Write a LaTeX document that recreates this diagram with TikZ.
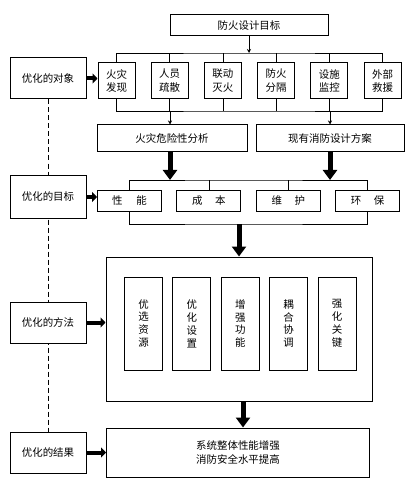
\documentclass[tikz,border=0pt]{standalone}
\usepackage{fontspec}
\newfontfamily\cjk{Noto Sans CJK SC}
\usetikzlibrary{arrows.meta,backgrounds}

\newlength{\du}
\setlength{\du}{1bp}

\tikzset{
  kuang/.style={draw, line width=1bp, fill=white, inner sep=0pt, align=center,
    font=\cjk\fontsize{10.5}{14}\selectfont},
  zuokuang/.style={kuang, minimum width=76\du, minimum height=41\du},
  xian/.style={line width=0.8bp},
  xijian/.style={line width=0.8bp, -{Stealth[length=4bp,width=4bp]}},
  cujian/.style={line width=5bp, -{Triangle[length=10bp,width=14bp]}},
  duanjian/.style={line width=4bp, -{Triangle[length=5bp,width=10bp]}},
}

\begin{document}
\begin{tikzpicture}
\pgftransformyscale{-1.000000}
\useasboundingbox (0\du,0\du) rectangle (412\du,492\du);
% left column
\node[zuokuang] (dx) at (48\du,78.5\du){优化的对象};
\node[zuokuang, minimum height=42\du] (mb) at (48\du,197\du){优化的目标};
\node[zuokuang] (ff) at (48\du,322.5\du){优化的方法};
\node[zuokuang] (jg) at (48\du,452.5\du){优化的结果};
% top
\node[kuang, minimum width=158\du, minimum height=21\du] (sj) at (249\du,25.5\du){防火设计目标};
\foreach \t [count=\i] in {{火灾\\发现},{人员\\疏散},{联动\\灭火},{防火\\分隔},{设施\\监控},{外部\\救援}}
  \node[kuang, minimum width=37\du, minimum height=36\du] (b\i) at ({116.5\du+(\i-1)*53.2\du},81\du){\t};
\coordinate (s1) at (249\du,53\du);
\coordinate (x1) at (249\du,111\du);
\draw[xian] (b1.north) |- (s1) -| (b6.north);
\draw[xian] (b1.south) |- (x1) -| (b6.south);
\foreach \i in {2,...,5}{
  \draw[xian] (b\i.north) -- (b\i.north |- s1);
  \draw[xian] (b\i.south) -- (b\i.south |- x1);
}
\draw[xijian] (sj.south) -- (sj.south |- s1);
\node[kuang, minimum width=150\du, minimum height=27\du] (wx) at (172\du,138.5\du){火灾危险性分析};
\node[kuang, minimum width=148\du, minimum height=27\du] (fa) at (330\du,138.5\du){现有消防设计方案};
\draw[xijian] ([xshift=-2\du]wx.north |- x1) -- ([xshift=-2\du]wx.north);
\draw[xijian] (fa.north |- x1) -- (fa.north);
\draw[duanjian] (dx.east) -- (dx.east -| b1.west);
% second level
\foreach \t [count=\i] in {{性\hspace{1.3em}能},{成\hspace{1.2em}本},{维\hspace{1.2em}护},{环\hspace{1.2em}保}}
  \node[kuang, minimum width=64\du, minimum height=21\du] (p\i) at ({129.5\du+(\i-1)*79.4\du},200.5\du){\t};
\coordinate (s2) at (239\du,180\du);
\coordinate (x2) at (239\du,224\du);
\begin{scope}[on background layer]
\draw[xian] (p1.north) |- (s2) -| (p4.north);
\draw[xian] (p1.south) |- (x2) -| (p4.south);
\draw[xian] (p1.north) -- (p1.south);
\draw[xian] (p4.north) -- (p4.south);
\draw[line width=0.8bp, dash pattern=on 5bp off 3bp] (dx.south) -- (jg.north);
\end{scope}
\draw[xian] (p2.north) -- (p2.north |- s2);
\draw[xian] (p3.north) -- (p3.north |- s2);
\draw[cujian] ([xshift=-2\du]wx.south) -- ([xshift=-2\du]wx.south |- s2);
\draw[cujian] (fa.south) -- (fa.south |- s2);
\draw[duanjian] (mb.east) -- (mb.east -| p1.west);
% methods
\node[kuang, minimum width=266\du, minimum height=144\du] (fk) at (239\du,329\du){};
\foreach \t [count=\i] in {{优\\选\\资\\源},{优\\化\\设\\置},{增\\强\\功\\能},{耦\\合\\协\\调},{强\\化\\关\\键}}
  \node[kuang, minimum width=38\du, minimum height=93\du, font=\cjk\fontsize{10.5}{13}\selectfont] (m\i) at ({143.5\du+(\i-1)*48.4\du},323.5\du){\t};
\draw[cujian] (fk.north |- x2) -- (fk.north);
\draw[duanjian] (ff.east) -- (ff.east -| fk.west);
% result
\node[kuang, minimum width=263\du, minimum height=49\du, font=\cjk\fontsize{10.5}{13.5}\selectfont] (jk) at (238\du,452.5\du){系统整体性能增强\\消防安全水平提高};
\draw[cujian] ([xshift=4\du]fk.south) -- ([xshift=4\du]fk.south |- jk.north);
\draw[duanjian] (jg.east) -- (jg.east -| jk.west);
\end{tikzpicture}
\end{document}
